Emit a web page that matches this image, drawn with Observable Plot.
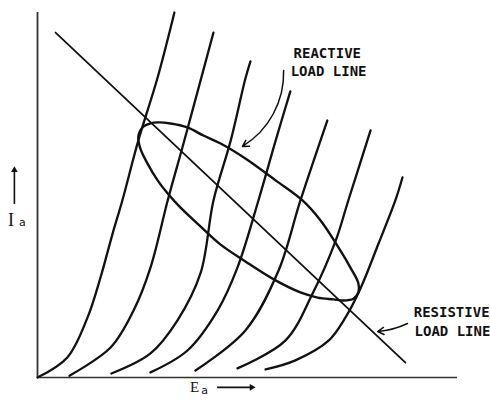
<!DOCTYPE html>
<html>
<head>
<meta charset="utf-8">
<script src="https://cdn.jsdelivr.net/npm/d3@7"></script>
<script src="https://cdn.jsdelivr.net/npm/@observablehq/plot@0.6"></script>
<style>
  html, body { margin: 0; padding: 0; background: #fff; }
  #chart svg { display: block; overflow: visible; }
</style>
</head>
<body>
<div id="chart"></div>
<script>
// Plate characteristics [Ea, Ia] (arbitrary units)
const curve1 = [[0,0],[7.1,5.5],[11.9,16.4],[15,27.4],[17.9,39.5],[20.2,48.5],[24,64.9],[28.6,82.2],[32.6,100]];
const curve2 = [[7.6,0.5],[17.4,8.2],[22.9,18.4],[26.9,30.1],[31,48.5],[34.5,63],[37.1,74],[41.9,94.5]];
const curve3 = [[17.6,1.1],[26.9,6.6],[33.3,15.6],[38.8,28.5],[41.9,48.5],[46,64.9],[49.5,81.9],[50.7,86.6]];
const curve4 = [[26.9,1.4],[35.7,7.4],[42.9,18.4],[47.6,30.1],[52.6,48.5],[56.7,64.9],[60.2,78.4]];
const curve5 = [[37.6,1.9],[49.5,12.9],[57.4,29.3],[62.6,48.5],[69,70.4]];
const curve6 = [[47.6,2.5],[59,10.1],[65.5,23],[71,37.5],[74,48.5],[79.3,67.7]];
const curve7 = [[54.3,2.2],[61.4,4.7],[69.3,10.1],[73.3,16.4],[76.9,24.4],[81.2,36.7],[85.2,48.5],[86.9,54.8]];
const curves = [curve1, curve2, curve3, curve4, curve5, curve6, curve7];

// Resistive load line end points
const loadLine = [[4.3,94.5],[87.6,4.1]];

// Reactive load line (ellipse) outline points
const ellipse = [[24,66],[25,68.5],[26.9,69.6],[28.6,69.9],[31.7,69.6],[35.7,68.5],[39.5,66.3],[43.6,64.1],
  [49.5,60],[56.7,54],[63.1,48.5],[67.4,43],[72.1,34.8],[74.5,30.1],[76.4,25.8],[76.4,23.3],[75.2,21.6],
  [72.9,21.1],[70.5,21.4],[66.7,21.9],[62.6,23.3],[56.7,26.6],[49.5,31.8],[43.6,36.4],[38.8,41.4],
  [34,46.6],[31,50.4],[28.6,54],[26.2,58.6],[24.5,62.7]];

const labels = {reactive: ["REACTIVE", "LOAD LINE"], resistive: ["RESISTIVE", "LOAD LINE"], y: ["I", "a"], x: ["E", "a"]};

const ink = "#111";
const mono = "DejaVu Sans Mono";
const serif = "Liberation Serif";

const curveMarks = curves.map(c => Plot.line(c, {x: d => d[0], y: d => d[1], curve: "catmull-rom", stroke: ink, strokeWidth: 2.3}));

const chart = Plot.plot({
  width: 490,
  height: 401,
  marginLeft: 37,
  marginRight: 33,
  marginTop: 12,
  marginBottom: 24,
  x: {domain: [0, 100], axis: null},
  y: {domain: [0, 100], axis: null},
  style: {background: "#fff", overflow: "visible"},
  marks: [
    Plot.ruleX([0], {y1: 0, y2: 100, stroke: "#333", strokeWidth: 1.8}),
    Plot.ruleY([0], {x1: 0, x2: 100, stroke: "#333", strokeWidth: 1.6}),
    ...curveMarks,
    Plot.line(loadLine, {x: d => d[0], y: d => d[1], stroke: ink, strokeWidth: 1.8}),
    Plot.line(ellipse, {x: d => d[0], y: d => d[1], curve: "catmull-rom-closed", stroke: ink, strokeWidth: 2.4}),
    // reactive annotation
    Plot.text([labels.reactive[0]], {x: 69.0, y: 88.8, text: d => d, fontFamily: mono, fontWeight: "bold", fontSize: 14, fill: ink, textAnchor: "middle"}),
    Plot.text([labels.reactive[1]], {x: 69.3, y: 83.8, text: d => d, fontFamily: mono, fontWeight: "bold", fontSize: 14, fill: ink, textAnchor: "middle"}),
    Plot.arrow([0], {x1: 58.6, y1: 84.1, x2: 48.8, y2: 63.3, bend: 30, stroke: ink, strokeWidth: 1.5, headLength: 7}),
    // resistive annotation
    Plot.text([labels.resistive[0]], {x: 98.6, y: 17.8, text: d => d, fontFamily: mono, fontWeight: "bold", fontSize: 14, fill: ink, textAnchor: "middle"}),
    Plot.text([labels.resistive[1]], {x: 98.8, y: 12.6, text: d => d, fontFamily: mono, fontWeight: "bold", fontSize: 14, fill: ink, textAnchor: "middle"}),
    Plot.arrow([0], {x1: 88.1, y1: 14.8, x2: 81.0, y2: 12.6, bend: 10, stroke: ink, strokeWidth: 1.5, headLength: 7}),
    // axis labels
    Plot.text([labels.y[0]], {x: -6.3, y: 41.6, text: d => d, fontFamily: serif, fontSize: 18, fill: ink, textAnchor: "middle", lineAnchor: "bottom"}),
    Plot.text([labels.y[1]], {x: -3.6, y: 41.4, text: d => d, fontFamily: "DejaVu Sans", fontSize: 11, fill: ink, textAnchor: "middle", lineAnchor: "bottom"}),
    Plot.arrow([0], {x1: -5.5, y1: 47.7, x2: -5.5, y2: 56.5, stroke: ink, strokeWidth: 1.6, headLength: 0}),
    Plot.dot([0], {x: -5.5, y: 56.8, symbol: "triangle2", r: 3.2, fill: ink}),
    Plot.text([labels.x[0]], {x: 37.4, y: -4.1, text: d => d, fontFamily: serif, fontSize: 15, fill: ink, textAnchor: "middle", lineAnchor: "bottom"}),
    Plot.text([labels.x[1]], {x: 39.8, y: -4.4, text: d => d, fontFamily: "DejaVu Sans", fontSize: 11, fill: ink, textAnchor: "middle", lineAnchor: "bottom"}),
    Plot.arrow([0], {x1: 42.9, y1: -2.7, x2: 50.6, y2: -2.7, stroke: ink, strokeWidth: 1.6, headLength: 0}),
    Plot.dot([0], {x: 51.0, y: -2.7, symbol: "triangle2", r: 3.2, rotate: 90, fill: ink})
  ]
});
document.getElementById("chart").appendChild(chart);
</script>
</body>
</html>
